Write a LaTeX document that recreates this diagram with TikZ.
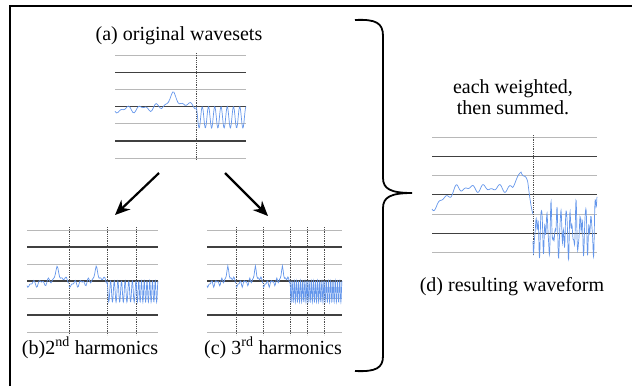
\documentclass[tikz,border=0pt]{standalone}
\usepackage{fontspec}
\setmainfont{Liberation Serif}
\usepackage{tikz}
\usetikzlibrary{arrows.meta, positioning}
\definecolor{wavecol}{RGB}{100,150,235}
\newcommand{\wavegrid}[4]{%
  \foreach \k in {0,...,6}{%
    \ifodd\k
      \draw[darkrule] (#1,#3+\k*#4) -- (#2,#3+\k*#4);
    \else
      \draw[lightrule] (#1,#3+\k*#4) -- (#2,#3+\k*#4);
    \fi
  }%
}

\begin{document}
\begin{tikzpicture}[
        x=1pt, y=-1pt,
        captext/.style={font=\fontsize{20}{21}\selectfont, inner sep=0pt},
        frame/.style={line width=2pt, black},
        lightrule/.style={draw=black!28, line width=0.8pt},
        darkrule/.style={draw=black!75, line width=1.1pt},
        cutline/.style={draw=black!70, densely dotted, line width=0.8pt},
        wave/.style={draw=wavecol, line width=0.7pt},
        arrow/.style={-{Stealth[length=15pt, width=13pt]}, line width=2.2pt},
        bracket/.style={line width=1.8pt, black},
        declare function={
            wl(\t)=0.2-0.3*\t+0.14*sin(1900*\t)+0.1*sin(3300*\t+50)-0.65*max(0,1-abs(\t-0.72)/0.14);
            wr(\t)=0.62*(1-cos(2880*\t));
            wdl(\t)=0.7*max(0,1-\t/0.25)-0.35*min(1,\t/0.25)+0.12*sin(2600*\t)+0.1*sin(4100*\t+20)-1.0*max(0,1-abs(\t-0.88)/0.08)+1.2*max(0,(\t-0.95)/0.05);
            wdr(\t)=1.85+0.8*sin(4700*\t)+0.55*sin(7300*\t+30)+0.3*sin(11000*\t+70)-2.2*max(0,(\t-0.97)/0.03);
        }
    ]
        \useasboundingbox (0,0) rectangle (632,386);
        \draw[frame] (10,386) -- (10,6) -- (632,6);

        \node[captext] (title-a) at (179,36) {(a) original wavesets};
        \wavegrid{115}{246}{55}{17.2}
        \draw[cutline] (196,53) -- (196,160);
        \draw[wave] plot[domain=0:1, samples=60] ({115+81*\x}, {106.6+17.2*wl(\x)});
        \draw[wave] plot[domain=0:1, samples=100] ({196+50*\x}, {106.6+17.2*wr(\x)});

        \coordinate (a-out-l) at (159,173);
        \coordinate (b-in) at (115,215);
        \coordinate (a-out-r) at (225,173);
        \coordinate (c-in) at (268,216);
        \draw[arrow] (a-out-l) -- (b-in);
        \draw[arrow] (a-out-r) -- (c-in);

        \wavegrid{27}{158}{230}{17}
        \foreach \xc in {69,107,136} \draw[cutline] (\xc,227) -- (\xc,335);
        \foreach \xa/\xb in {27/69,69/107}
            \draw[wave] plot[domain=0:1, samples=50] ({\xa+(\xb-\xa)*\x}, {281+17*wl(\x)});
        \foreach \xa/\xb in {107/136,136/158}
            \draw[wave] plot[domain=0:1, samples=100] ({\xa+(\xb-\xa)*\x}, {281+17*wr(\x)});
        \node[captext] (cap-b) at (90,348) {(b)2\textsuperscript{nd} harmonics};

        \wavegrid{207}{342}{230}{17}
        \foreach \xc in {236,263,290,307,324} \draw[cutline] (\xc,227) -- (\xc,335);
        \foreach \xa/\xb in {207/236,236/263,263/290}
            \draw[wave] plot[domain=0:1, samples=40] ({\xa+(\xb-\xa)*\x}, {281+17*wl(\x)});
        \foreach \xa/\xb in {290/307,307/324,324/342}
            \draw[wave] plot[domain=0:1, samples=100] ({\xa+(\xb-\xa)*\x}, {281+17*wr(\x)});
        \node[captext] (cap-c) at (273,348) {(c) 3\textsuperscript{rd} harmonics};

        \coordinate (brace-top) at (355,20);
        \coordinate (brace-tip) at (412,193);
        \coordinate (brace-bot) at (355,371);
        \draw[bracket] (brace-top) .. controls (376,19) and (383,23) .. (383,36) -- (383,178)
            .. controls (383,189) and (391,193) .. (brace-tip)
            .. controls (391,193) and (383,197) .. (383,208) -- (383,356)
            .. controls (383,368) and (376,372) .. (brace-bot);

        \node[captext, align=center] (note-d) at (513,97) {each weighted,\\then summed.};
        \wavegrid{432}{597}{137}{19.3}
        \draw[cutline] (533,135) -- (533,255);
        \draw[wave] plot[domain=0:1, samples=120] ({432+101*\x}, {195+19.3*wdl(\x)});
        \draw[wave] plot[domain=0:1, samples=220] ({533+64*\x}, {195+19.3*wdr(\x)});
        \node[captext] (cap-d) at (512,287) {(d) resulting waveform};
    \end{tikzpicture}
\end{document}
